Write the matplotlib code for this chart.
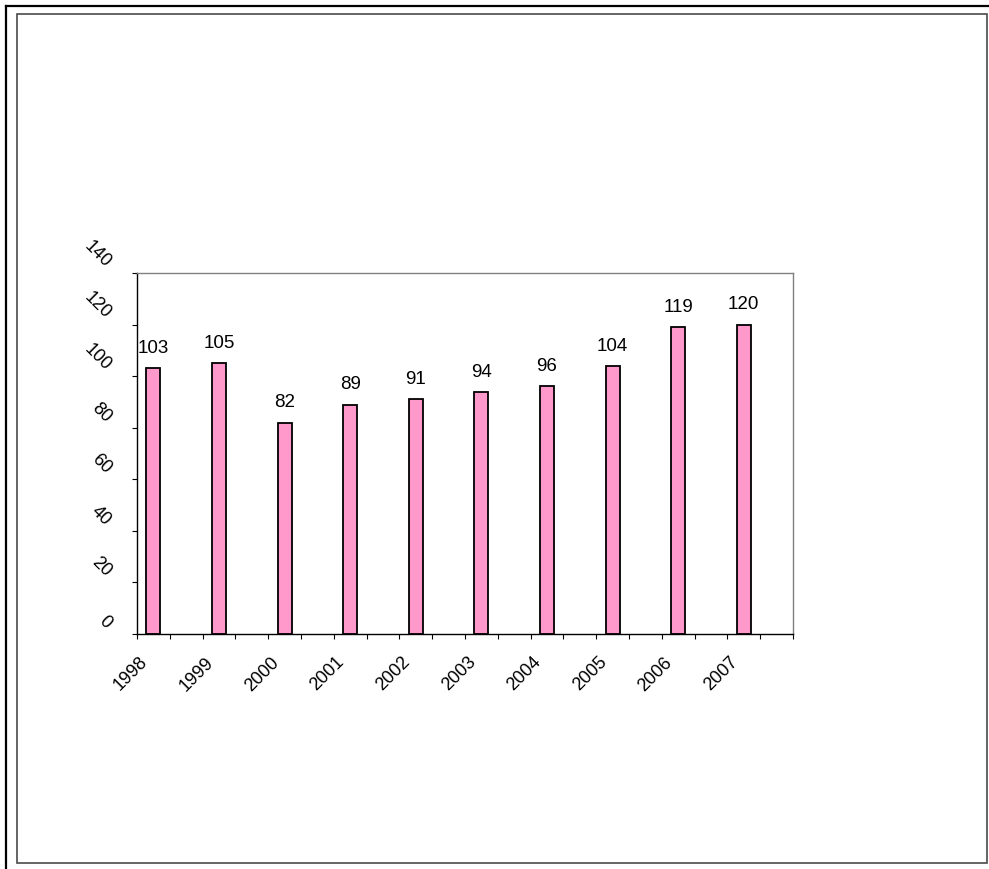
import matplotlib.pyplot as plt
import matplotlib.transforms as mtransforms
from matplotlib.lines import Line2D
from matplotlib.patches import Rectangle

anios = ["1998", "1999", "2000", "2001", "2002", "2003", "2004", "2005", "2006", "2007"]
valores = [103, 105, 82, 89, 91, 94, 96, 104, 119, 120]
ticks_y = [0, 20, 40, 60, 80, 100, 120, 140]

plt.rcParams['font.family'] = ['Liberation Sans', 'DejaVu Sans']

W, H = 989, 869
fig = plt.figure(figsize=(W / 100, H / 100), dpi=100)
fig.patch.set_facecolor("white")

# marcos exteriores (como en la hoja original)
px = lambda x, y: (x / W, 1 - y / H)
fig.add_artist(Line2D([6 / W, 1], [1 - 6 / H, 1 - 6 / H], color="black", lw=1.6))
fig.add_artist(Line2D([6 / W, 6 / W], [0, 1 - 6 / H], color="black", lw=1.6))
fig.add_artist(Rectangle(px(16.5, 863), (987 - 16.5) / W, (863 - 13.5) / H,
                         fill=False, edgecolor="#4a4a4a", lw=1.2))

ax = fig.add_axes([137 / W, 1 - 634 / H, 656 / W, 361 / H])

# cada año ocupa dos categorias (hay una fila vacia entre ellas)
pos = [2 * i + 0.5 for i in range(len(anios))]
barras = ax.bar(pos, valores, width=0.43, color="#FF99CC", edgecolor="black", linewidth=1.3)
for b, v in zip(barras, valores):
    ax.annotate(str(v), (b.get_x() + b.get_width() / 2, v), xytext=(0, 8),
                textcoords="offset points", ha="center", va="bottom", fontsize=13.5)

ax.set_xlim(0, 20)
ax.set_ylim(0, 140)

etiquetas_x = []
for i in range(21):
    etiquetas_x.append(anios[i // 2] if i % 2 == 0 and i // 2 < len(anios) else "")
ax.set_xticks(range(21))
ax.set_xticklabels(etiquetas_x, rotation=45, ha="right", va="center",
                   rotation_mode="anchor", fontsize=13)
ax.set_yticks(ticks_y)
ax.set_yticklabels([str(t) for t in ticks_y], rotation=-45, ha="right", va="center",
                   rotation_mode="anchor", fontsize=13)

ax.tick_params(axis="both", direction="out", length=3.6, width=0.8, color="black")
ax.tick_params(axis="y", pad=17)
ax.tick_params(axis="x", pad=15)

desplaza_y = mtransforms.ScaledTranslation(0, 0.08, fig.dpi_scale_trans)
for lab in ax.get_yticklabels():
    lab.set_transform(lab.get_transform() + desplaza_y)
desplaza_x = mtransforms.ScaledTranslation(0.08, 0, fig.dpi_scale_trans)
for lab in ax.get_xticklabels():
    lab.set_transform(lab.get_transform() + desplaza_x)

ax.spines["left"].set_color("black")
ax.spines["bottom"].set_color("black")
ax.spines["top"].set_color("#808080")
ax.spines["right"].set_color("#808080")
for s in ax.spines.values():
    s.set_linewidth(1.0)

fig.savefig("out.png", dpi=100)
